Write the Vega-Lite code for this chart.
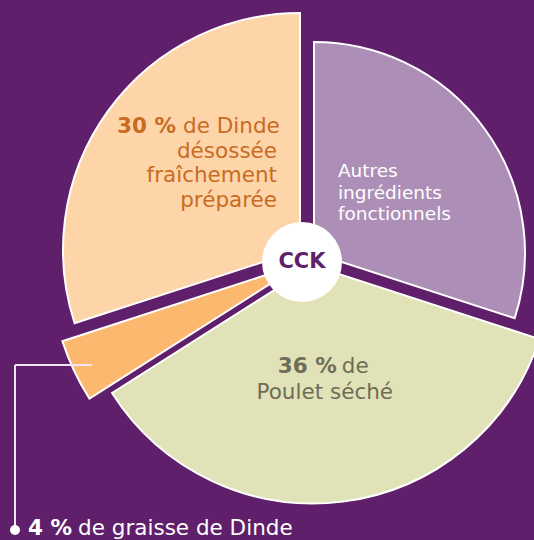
{
  "$schema": "https://vega.github.io/schema/vega-lite/v6.json",
  "width": 464,
  "height": 524,
  "padding": {"left": 70, "top": 0, "right": 0, "bottom": 16},
  "autosize": {"type": "none"},
  "background": "#5F1F6A",
  "config": {"view": {"stroke": null}, "font": "DejaVu Sans"},
  "data": {
    "values": [
      {"part": "Autres", "pct": 30, "order": 1, "bold": "", "l1": "", "more": "Autres\ningrédients\nfonctionnels"},
      {"part": "Poulet", "pct": 36, "order": 2, "bold": "36 %", "l1": "de", "more": "Poulet séché"},
      {"part": "Graisse", "pct": 4, "order": 3, "bold": "4 %", "l1": "de graisse de Dinde", "more": ""},
      {"part": "Dinde", "pct": 30, "order": 4, "bold": "30 %", "l1": "de Dinde", "more": "désossée\nfraîchement\npréparée"}
    ]
  },
  "transform": [
    {"stack": "pct", "groupby": [], "sort": [{"field": "order", "order": "ascending"}], "as": ["start", "end"]}
  ],
  "layer": [
    {
      "encoding": {
        "theta": {"field": "start", "type": "quantitative", "scale": {"domain": [0, 100]}},
        "theta2": {"field": "end"},
        "color": {
          "field": "part",
          "type": "nominal",
          "scale": {"domain": ["Autres", "Poulet", "Graisse", "Dinde"], "range": ["#AD8EB7", "#E2E2B9", "#FDB870", "#FDD5A9"]},
          "legend": null
        }
      },
      "layer": [
        {"transform": [{"filter": "datum.part === 'Dinde'"}], "mark": {"type": "arc", "outerRadius": 237, "xOffset": -2, "yOffset": -12, "stroke": "white", "strokeWidth": 2}},
        {"transform": [{"filter": "datum.part === 'Autres'"}], "mark": {"type": "arc", "outerRadius": 211, "xOffset": 12, "yOffset": -9, "stroke": "white", "strokeWidth": 2}},
        {"transform": [{"filter": "datum.part === 'Poulet'"}], "mark": {"type": "arc", "outerRadius": 238, "xOffset": 11, "yOffset": 3.5, "stroke": "white", "strokeWidth": 2}},
        {"transform": [{"filter": "datum.part === 'Graisse'"}], "mark": {"type": "arc", "outerRadius": 253, "xOffset": 1, "yOffset": 1, "stroke": "white", "strokeWidth": 2}}
      ]
    },
    {
      "data": {"values": [{"label": "CCK"}]},
      "layer": [
        {"mark": {"type": "point", "filled": true, "shape": "circle", "size": 6400, "color": "white", "opacity": 1}, "encoding": {}},
        {"mark": {"type": "text", "fontSize": 21, "fontWeight": "bold", "color": "#5F1F6A", "baseline": "middle", "align": "center"}, "encoding": {"text": {"field": "label"}}},
        {"mark": {"type": "rule", "color": "#EFE6F1", "strokeWidth": 2}, "encoding": {"x": {"value": -55}, "y": {"value": 365}, "y2": {"value": 530}}},
        {"mark": {"type": "rule", "color": "#EFE6F1", "strokeWidth": 2}, "encoding": {"x": {"value": -55}, "x2": {"value": 22}, "y": {"value": 365}}},
        {"mark": {"type": "point", "filled": true, "shape": "circle", "size": 100, "color": "white", "opacity": 1}, "encoding": {"x": {"value": -55}, "y": {"value": 530}}}
      ]
    },
    {
      "encoding": {
        "theta": {"field": "pct", "type": "quantitative", "stack": true, "scale": {"domain": [0, 100]}},
        "order": {"field": "order"},
        "detail": {"field": "part"}
      },
      "layer": [
        {"mark": {"type": "text", "radius": 100, "dx": -45, "dy": -26, "align": "left", "baseline": "alphabetic", "fontSize": 18.5, "lineBreak": "\n", "lineHeight": 21.5, "color": "white"},
         "encoding": {"text": {"condition": {"test": "datum.part === 'Autres'", "field": "more"}, "value": ""}}},
        {"mark": {"type": "text", "radius": 110, "dx": 21, "dy": 2, "align": "right", "baseline": "alphabetic", "fontSize": 21.5, "fontWeight": "bold", "color": "#6E6D55"},
         "encoding": {"text": {"condition": {"test": "datum.part === 'Poulet'", "field": "bold"}, "value": ""}}},
        {"mark": {"type": "text", "radius": 110, "dx": 26, "dy": 2, "align": "left", "baseline": "alphabetic", "fontSize": 21.5, "color": "#6E6D55"},
         "encoding": {"text": {"condition": {"test": "datum.part === 'Poulet'", "field": "l1"}, "value": ""}}},
        {"mark": {"type": "text", "radius": 110, "dx": 9, "dy": 28, "align": "center", "baseline": "alphabetic", "fontSize": 21.5, "color": "#6E6D55"},
         "encoding": {"text": {"condition": {"test": "datum.part === 'Poulet'", "field": "more"}, "value": ""}}},
        {"mark": {"type": "text", "radius": 250, "dx": -3.7, "dy": 166.5, "align": "right", "baseline": "alphabetic", "fontSize": 21.5, "fontWeight": "bold", "color": "white"},
         "encoding": {"text": {"condition": {"test": "datum.part === 'Graisse'", "field": "bold"}, "value": ""}}},
        {"mark": {"type": "text", "radius": 250, "dx": 2.3, "dy": 166.5, "align": "left", "baseline": "alphabetic", "fontSize": 21.5, "color": "white"},
         "encoding": {"text": {"condition": {"test": "datum.part === 'Graisse'", "field": "l1"}, "value": ""}}},
        {"mark": {"type": "text", "radius": 150, "dx": -4.6, "dy": -40.8, "align": "right", "baseline": "alphabetic", "fontSize": 21.5, "fontWeight": "bold", "color": "#C96B22"},
         "encoding": {"text": {"condition": {"test": "datum.part === 'Dinde'", "field": "bold"}, "value": ""}}},
        {"mark": {"type": "text", "radius": 150, "dx": 2.4, "dy": -40.8, "align": "left", "baseline": "alphabetic", "fontSize": 21.5, "color": "#C96B22"},
         "encoding": {"text": {"condition": {"test": "datum.part === 'Dinde'", "field": "l1"}, "value": ""}}},
        {"mark": {"type": "text", "radius": 150, "dx": 96.4, "dy": -15.8, "align": "right", "baseline": "alphabetic", "fontSize": 21.5, "lineBreak": "\n", "lineHeight": 24.3, "color": "#C96B22"},
         "encoding": {"text": {"condition": {"test": "datum.part === 'Dinde'", "field": "more"}, "value": ""}}}
      ]
    }
  ]
}
